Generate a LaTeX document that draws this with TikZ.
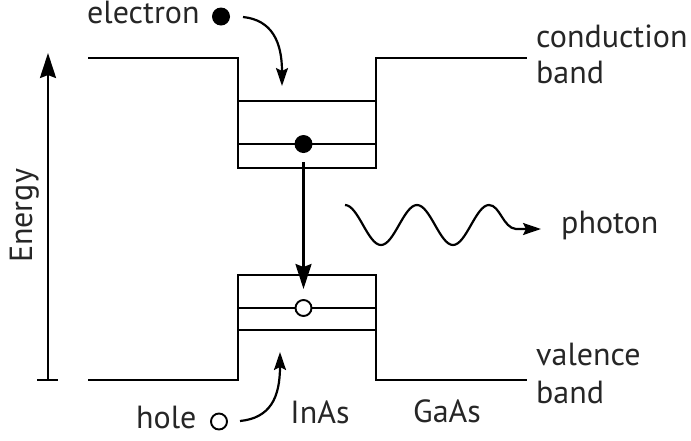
\documentclass[tikz,border=0pt]{standalone}
\usepackage{fontspec}
\setmainfont{PT Sans}
\usetikzlibrary{arrows.meta}
\begin{document}
\begin{tikzpicture}[x=1pt,y=-1pt,
  band/.style={line width=2.5pt, line cap=butt, line join=miter},
  lbl/.style={font=\fontsize{32}{36}\selectfont, inner sep=0pt, text=black!85},
  bigtip/.style={-{Stealth[length=25pt,width=16pt,inset=3pt]}, line width=2.5pt},
  smalltip/.style={-{Stealth[length=18pt,width=12pt,inset=3pt]}, line width=2.2pt},
  dot/.style={circle, fill=black, inner sep=0pt, minimum size=18pt},
  holec/.style={circle, draw=black, line width=1.9pt, inner sep=0pt, minimum size=16pt}]
\useasboundingbox (0,0) rectangle (691,440);
% energy axis
\coordinate (ebot) at (48,380);
\coordinate (etop) at (48,53);
\draw[bigtip] (ebot) -- (etop);
\draw[band] (37,380) -- (58,380);
\node[lbl, rotate=90, anchor=base] (energy) at (32,216) {Energy};
% conduction band
\draw[band] (88,58) -- (238,58) -- (238,168) -- (376,168) -- (376,58) -- (527,58);
\draw[band] (238,101) -- (376,101);
\draw[band] (238,144) -- (376,144);
% valence band
\draw[band] (88,380) -- (238,380) -- (238,275) -- (376,275) -- (376,380) -- (527,380);
\draw[band] (238,308) -- (376,308);
\draw[band] (238,330) -- (376,330);
% particles
\node[dot] (e1) at (303.5,144) {};
\node[holec, fill=white] (h1) at (303.5,308) {};
\coordinate (htip) at (303.5,289);
\coordinate (hstart) at (303.5,162);
\draw[bigtip] (hstart) -- (htip);
% labels
\node[lbl, anchor=base west] (electron) at (87,23) {electron};
\node[dot] (e0) at (221,16.5) {};
\coordinate (ea) at (243,17);
\coordinate (eb) at (282,86);
\draw[smalltip] (ea) .. controls (272,20) and (282,42) .. (eb);
\node[lbl, anchor=base west] (hole) at (136,428) {hole};
\node[holec] (h0) at (219,421.5) {};
\coordinate (ha) at (240,421);
\coordinate (hb) at (280,352);
\draw[smalltip] (ha) .. controls (270,418) and (280,398) .. (hb);
\node[lbl, anchor=base] (inas) at (320,423) {InAs};
\node[lbl, anchor=base] (gaas) at (447,422) {GaAs};
\node[lbl, anchor=base west] (cb1) at (536,47) {conduction};
\node[lbl, anchor=base west] (cb2) at (536,83) {band};
\node[lbl, anchor=base west] (vb1) at (536,365) {valence};
\node[lbl, anchor=base west] (vb2) at (536,403) {band};
\node[lbl, anchor=base west] (photon) at (561,233) {photon};
% photon wave
\coordinate (pend) at (541,229);
\draw[smalltip]
  (345,205) cos (363,225) sin (381,245) cos (399,225) sin (417,205)
  cos (435,225) sin (453,245) cos (471,225) sin (489,205)
  .. controls (500,205) and (503,228) .. (516,229) -- (pend);
\end{tikzpicture}
\end{document}
